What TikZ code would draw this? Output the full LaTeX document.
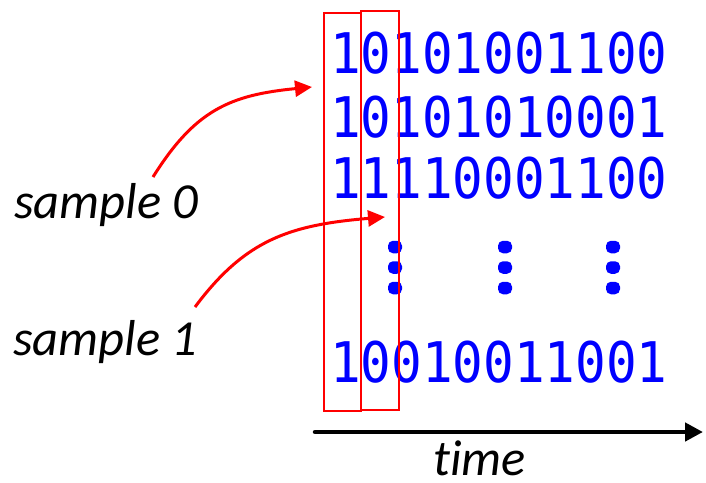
\documentclass[tikz,border=0pt]{standalone}
\usepackage{fontspec}
\usetikzlibrary{arrows.meta,shapes.geometric}
\newfontfamily\bitsfont{DejaVu Sans Mono}
\newfontfamily\lblfont[Ligatures=NoCommon]{Carlito}
\newcommand\bitrow[1]{\scalebox{0.91}[1]{#1}}
\definecolor{bitblue}{RGB}{0,0,255}
\definecolor{redc}{RGB}{255,0,0}
\tikzset{
  bits/.style={inner sep=0pt, anchor=base west, text=bitblue, font=\bitsfont\fontsize{56}{60}\selectfont},
  lbl/.style={inner sep=0pt, anchor=base west, text depth=0pt, font=\lblfont\itshape\fontsize{50.5}{55}\selectfont},
  colbox/.style={draw=redc, line width=2.5pt},
  vdot/.style={fill=bitblue, rounded corners=5pt, minimum width=14pt, minimum height=12.5pt, inner sep=0pt},
  redarrow/.style={draw=redc, line width=3pt, -{Triangle[length=17pt,width=16pt]}},
  timearrow/.style={line width=4.5pt, line cap=round, -{Triangle[length=18pt,width=18pt]}}
}
\begin{document}
\begin{tikzpicture}[x=1pt,y=-1pt]
\useasboundingbox (0,0) rectangle (706,482);
% bit rows
\node[bits] (r1) at (330,73) {\bitrow{10101001100}};
\node[bits] (r2) at (330,137) {\bitrow{10101010001}};
\node[bits] (r3) at (330,198) {\bitrow{11110001100}};
\node[bits] (r4) at (330,382) {\bitrow{10010011001}};
% vertical dots
\foreach \x/\n in {395/a,505/b,613/c}{
  \node[vdot] (d\n1) at (\x,247) {};
  \node[vdot] (d\n2) at (\x,267.5) {};
  \node[vdot] (d\n3) at (\x,288) {};
}
% column boxes
\draw[colbox] (324,13) rectangle (361,411);
\draw[colbox] (361,11) rectangle (399,410);
% labels
\node[lbl] (s0) at (14,218) {sample 0};
\node[lbl] (s1) at (13,355) {sample 1};
\node[lbl] (t) at (433,475) {time};
% arrows
\coordinate (a0s) at (153,177);
\coordinate (a0e) at (312,87);
\coordinate (a1s) at (195,307);
\coordinate (a1e) at (385,217);
\draw[redarrow] (a0s) .. controls (195,110) and (230,95) .. (a0e);
\draw[redarrow] (a1s) .. controls (245,240) and (289,225) .. (a1e);
\coordinate (ts) at (315,432);
\coordinate (te) at (703,432);
\draw[timearrow] (ts) -- (te);
\end{tikzpicture}
\end{document}
